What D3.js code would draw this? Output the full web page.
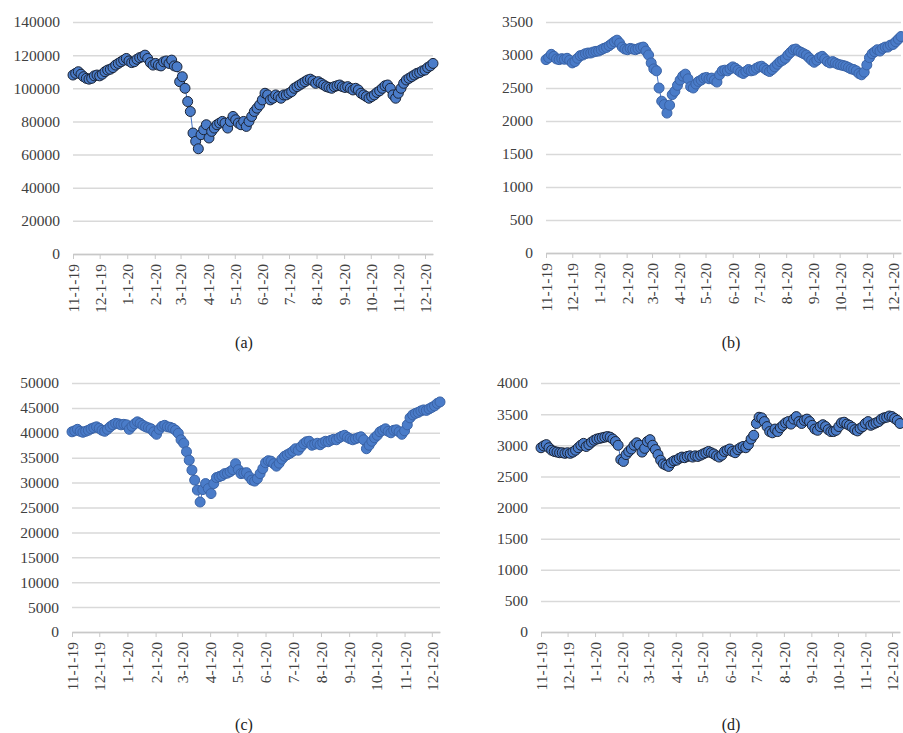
<!DOCTYPE html>
<html>
<head>
<meta charset="utf-8">
<script src="https://cdnjs.cloudflare.com/ajax/libs/d3/7.8.5/d3.min.js"></script>
<style>
body { margin: 0; background: #fff; }
text { font-family: "Liberation Serif", "Times New Roman", serif; }
</style>
</head>
<body>
<svg width="903" height="733"></svg>
<script>
// readings are sampled every 3 days, starting 11-1-19
var startDate = new Date(2019, 10, 1);
var stepDays = 3;

// month labels on the x axis
var monthTicks = d3.timeMonth.range(new Date(2019, 10, 1), new Date(2020, 11, 2));

// (a)
var seriesA = [
    108000, 109000, 110000, 108500, 107000, 106000, 105500, 106000, 107500, 108000,
    107500, 108500, 110000, 111000, 111500, 112500, 114000, 115000, 116000, 117000,
    118000, 116500, 115500, 116000, 117500, 118500, 119000, 120000, 118000, 115500,
    114000, 115000, 114000, 113500, 116000, 116500, 115000, 117000, 113500, 113000,
    104000, 107000, 100000, 92000, 86000, 73000, 68000, 63500, 72000, 75000,
    78000, 70000, 74000, 76000, 78000, 79000, 80000, 79000, 76000, 80000,
    83000, 81000, 79000, 78000, 80000, 77000, 80000, 83000, 86000, 88000,
    90000, 93000, 97000, 96000, 93000, 94000, 96000, 95000, 94000, 96000,
    96000, 97000, 98000, 100000, 101000, 102000, 103000, 104000, 105000, 105500,
    104500, 103000, 104000, 103000, 102000, 101000, 100500, 100000, 101000, 101500,
    102000, 101000, 100500, 101000, 100000, 99000, 100000, 99000, 97000, 96000,
    95000, 94000, 95000, 96000, 97500, 98500, 100000, 101500, 102000, 100000,
    96000, 94000, 97000, 100000, 103000, 105000, 106000, 107000, 108000, 109000,
    109500, 110500, 111000, 112500, 113500, 115000
];

// (b)
var seriesB = [
    2930, 2960, 3010, 2980, 2940, 2930, 2945, 2935, 2950, 2920,
    2880, 2900, 2950, 2990, 3000, 3020, 3030, 3030, 3045, 3055,
    3060, 3080, 3100, 3115, 3140, 3170, 3200, 3225, 3180, 3120,
    3090, 3080, 3100, 3090, 3080, 3095, 3110, 3120, 3060, 3000,
    2880, 2790, 2760, 2500, 2300, 2250, 2120, 2240, 2400, 2450,
    2540, 2620, 2680, 2710, 2640, 2520, 2500, 2560, 2600, 2620,
    2650, 2660, 2640, 2650, 2620, 2590, 2700, 2760, 2770, 2760,
    2790, 2820, 2800, 2770, 2740, 2720, 2750, 2780, 2760, 2770,
    2800, 2820, 2830, 2800, 2770, 2750, 2780, 2820, 2860, 2900,
    2920, 2950, 3000, 3040, 3080, 3090, 3060, 3040, 3020, 3000,
    2960, 2920, 2890, 2920, 2960, 2980, 2940, 2900, 2880, 2900,
    2880, 2860, 2850, 2840, 2830, 2810, 2790, 2780, 2760, 2720,
    2700, 2740, 2850, 2960, 3020, 3050, 3080, 3060, 3100, 3120,
    3120, 3150, 3160, 3200, 3240, 3280
];

// (c)
var seriesC = [
    40200, 40400, 40700, 40300, 40100, 40300, 40500, 40800, 41000, 41200,
    40900, 40500, 40300, 40700, 41200, 41600, 41900, 41800, 41600, 41700,
    41600, 40700, 41300, 41800, 42200, 41900, 41500, 41200, 41000, 40800,
    40200, 39700, 40700, 41300, 41500, 41200, 41100, 40900, 40500, 39900,
    38600, 37900, 36200, 34500, 32500, 30500, 28500, 26100, 28600, 29800,
    28800, 27800, 29800, 31000, 31200, 31400, 31800, 31900, 32200, 32600,
    33800, 32600, 31800, 31900, 32000, 31200, 30500, 30300, 30800, 31800,
    32800, 34000, 34400, 34300, 33800, 33300, 33900, 34700, 35300, 35600,
    35900, 36300, 36800, 36500, 37200, 37800, 38200, 38300, 37500, 37700,
    37900, 37600, 38000, 38300, 38200, 38500, 38700, 38600, 39000, 39300,
    39500, 39100, 38800, 38600, 38800, 39000, 39200, 38600, 36800, 37500,
    38300, 39000, 39500, 40200, 40500, 40800, 40300, 40000, 40500, 40600,
    40200, 39700, 40400, 41600, 43000, 43600, 43900, 44100, 44400, 44600,
    44500, 44800, 45100, 45400, 45900, 46200
];

// (d)
var seriesD = [
    2960, 2990, 3010, 2960, 2920, 2900, 2890, 2880, 2880, 2870,
    2880, 2870, 2890, 2920, 2960, 3000, 3030, 2980, 3010, 3050,
    3080, 3100, 3110, 3120, 3130, 3140, 3130, 3100, 3060, 3000,
    2770, 2740, 2850, 2900, 2940, 3000, 3040, 3000, 2890, 2950,
    3060, 3090, 3000, 2930, 2850, 2760, 2700, 2680, 2660, 2720,
    2750, 2760, 2790, 2810, 2800, 2820, 2830, 2810, 2830, 2820,
    2840, 2860, 2880, 2900, 2880, 2860, 2830, 2810, 2840, 2900,
    2920, 2940, 2900, 2880, 2930, 2960, 2980, 2960, 3010, 3100,
    3160, 3350, 3450, 3440, 3380, 3300, 3220, 3200, 3260, 3220,
    3280, 3320, 3360, 3380, 3340, 3420, 3460, 3380, 3350, 3400,
    3420, 3380, 3320, 3260, 3240, 3300, 3330, 3300, 3250, 3220,
    3220, 3240, 3300, 3360, 3370, 3340, 3320, 3290, 3250, 3230,
    3270, 3300, 3350, 3380, 3320, 3340, 3360, 3380, 3420, 3440,
    3450, 3470, 3460, 3430, 3400, 3350
];

var svg = d3.select('svg');
var fmt = d3.timeFormat('%-m-%-d-%y');
var lastDate = d3.timeDay.offset(startDate, stepDays * (seriesA.length - 1));

/**
    one entry per small chart: where it sits and how its y axis runs
**/
var panels = [
    { values: seriesA, yMax: 140000, yStep: 20000, left: 73, right: 433, top: 22, bottom: 254,
      caption: '(a)', capX: 244, capY: 348, stroke: '#1b2436' },
    { values: seriesB, yMax: 3500, yStep: 500, left: 546, right: 901, top: 22, bottom: 253,
      caption: '(b)', capX: 731, capY: 348, stroke: '#3a63a6' },
    { values: seriesC, yMax: 50000, yStep: 5000, left: 72, right: 440, top: 383, bottom: 632,
      caption: '(c)', capX: 244, capY: 730, stroke: '#3a63a6' },
    { values: seriesD, yMax: 4000, yStep: 500, left: 541, right: 900, top: 383, bottom: 632,
      caption: '(d)', capX: 731, capY: 730, stroke: '#1b2436' }
];

panels.forEach(function(p) {
    var g = svg.append('g');

    var x = d3.scaleTime()
        .domain([startDate, lastDate])
        .range([p.left, p.right]);
    var y = d3.scaleLinear()
        .domain([0, p.yMax])
        .range([p.bottom, p.top]);

    // horizontal grid lines + y labels
    var yAxis = g.append('g')
        .attr('transform', 'translate(' + p.left + ',0)')
        .call(d3.axisLeft(y)
            .tickValues(d3.range(0, p.yMax + 1, p.yStep))
            .tickFormat(d3.format('d'))
            .tickSize(-(p.right - p.left))
            .tickPadding(13));
    yAxis.select('.domain').remove();
    yAxis.selectAll('line')
        .attr('stroke', '#d9d9d9')
        .attr('stroke-width', 1.5);
    yAxis.selectAll('text')
        .attr('fill', '#404040')
        .style('font-size', '15.5px');

    // x axis with month ticks
    var xAxis = g.append('g')
        .attr('transform', 'translate(0,' + p.bottom + ')')
        .call(d3.axisBottom(x)
            .tickValues(monthTicks)
            .tickFormat(fmt)
            .tickSize(5)
            .tickSizeOuter(0));
    xAxis.select('.domain')
        .attr('stroke', '#c8c8c8')
        .attr('stroke-width', 1.5);
    xAxis.selectAll('line')
        .attr('stroke', '#c8c8c8');
    xAxis.selectAll('text')
        .attr('transform', 'rotate(-90)')
        .attr('x', -10)
        .attr('y', 0)
        .attr('dy', '0.35em')
        .attr('fill', '#404040')
        .style('text-anchor', 'end')
        .style('font-size', '15.5px');

    var pts = p.values.map(function(v, i) {
        return { date: d3.timeDay.offset(startDate, stepDays * i), value: v };
    });

    g.append('path')
        .datum(pts)
        .attr('fill', 'none')
        .attr('stroke', '#4472c4')
        .attr('stroke-width', 1)
        .attr('d', d3.line()
            .x(function(d) { return x(d.date); })
            .y(function(d) { return y(d.value); }));

    g.selectAll('circle')
        .data(pts)
        .enter().append('circle')
        .attr('cx', function(d) { return x(d.date); })
        .attr('cy', function(d) { return y(d.value); })
        .attr('r', 5)
        .attr('fill', '#4a7cc9')
        .attr('stroke', p.stroke)
        .attr('stroke-width', 1);

    g.append('text')
        .attr('x', p.capX)
        .attr('y', p.capY)
        .attr('text-anchor', 'middle')
        .attr('fill', '#222')
        .style('font-size', '16px')
        .text(p.caption);
});
</script>
</body>
</html>
